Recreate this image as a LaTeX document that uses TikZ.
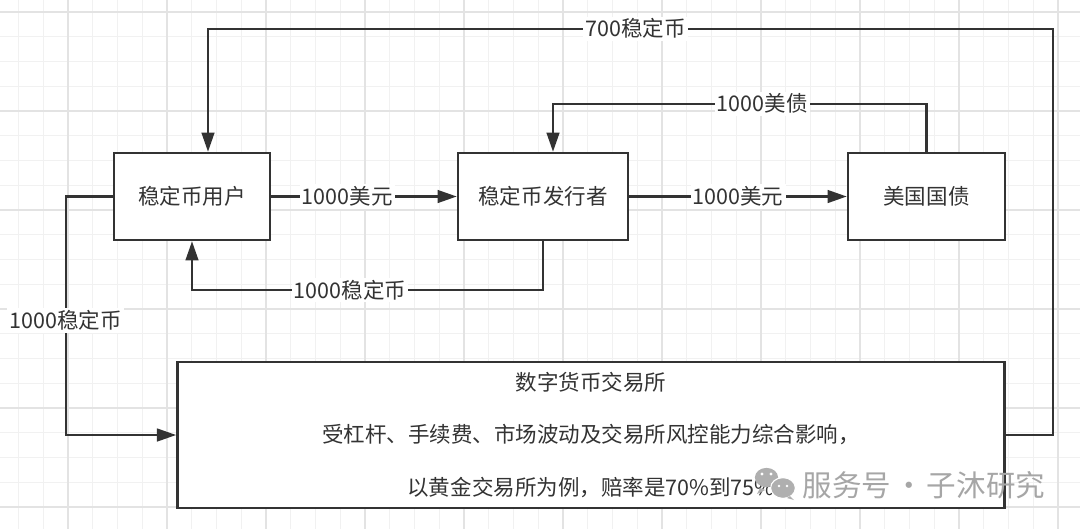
\documentclass[tikz,border=0pt]{standalone}
\usepackage{fontspec}
\newfontfamily\cjk{Noto Sans CJK SC}
\usepackage{tikz}
\usetikzlibrary{positioning,calc,arrows.meta}
\definecolor{ink}{HTML}{333333}
\definecolor{gridminor}{HTML}{F1F1F1}
\definecolor{gridmajor}{HTML}{E3E3E3}
\definecolor{mark}{HTML}{A6A6A6}

\begin{document}
\begin{tikzpicture}[x=0.025cm,y=-0.025cm,
	box/.style={draw=ink, line width=1.8pt, fill=white, text=ink, inner sep=0pt, align=center, font=\cjk\fontsize{15.3}{37}\selectfont},
	flow/.style={draw=ink, line width=1.5pt, -{Triangle[length=0.48cm,width=0.32cm]}},
	lbl/.style={fill=white, text=ink, inner sep=1.5pt, font=\cjk\fontsize{15.3}{18}\selectfont}]
	\useasboundingbox (0,0) rectangle (1080,529);
	\fill[white] (0,0) rectangle (1080,529);
	% background grid
	\foreach \i in {0,...,43}
		\draw[gridminor, line width=0.7pt] ({18.5+\i*24.75},0) -- ({18.5+\i*24.75},529);
	\foreach \i in {0,...,21}
		\draw[gridminor, line width=0.7pt] (0,{12+\i*24.75}) -- (1080,{12+\i*24.75});
	\foreach \i in {0,...,10}
		\draw[gridmajor, line width=1pt] ({68+\i*99},0) -- ({68+\i*99},529);
	\foreach \i in {0,...,5}
		\draw[gridmajor, line width=1pt] (0,{12+\i*99}) -- (1080,{12+\i*99});

	% boxes
	\node[box, minimum width=3.9cm, minimum height=2.175cm] (user) at (192,196.5) {稳定币用户};
	\node[box, minimum width=4.25cm, minimum height=2.175cm] (issuer) at (543,196.5) {稳定币发行者};
	\node[box, minimum width=3.925cm, minimum height=2.175cm] (treasury) at (926.5,196.5) {美国国债};
	\node[box, minimum width=20.675cm, minimum height=3.65cm] (exchange) at (591,435) {数字货币交易所\\受杠杆、手续费、市场波动及交易所风控能力综合影响，\\以黄金交易所为例，赔率是70\%到75\%};

	% flows
	\draw[flow] (user.east) -- (issuer.west) node[lbl, pos=0.41] (usd1) {1000美元};
	\draw[flow] (issuer.east) -- (treasury.west) node[lbl, midway] (usd2) {1000美元};
	\draw[flow] (treasury.north) -- ++(0,-48) -| ($(issuer.north)+(10,0)$) node[lbl, pos=0.22] (bond) {1000美债};
	\draw[flow] (issuer.south) -- ++(0,49) -| (user.south) node[lbl, pos=0.275] (coin1) {1000稳定币};
	\draw[flow] (user.west) -- ++(-47,0) |- (exchange.west) node[lbl, pos=0.26] (coin2) {1000稳定币};
	\draw[flow] (exchange.east) -- ++(47,0) |- ($(user.north)+(16,-123)$) node[lbl, pos=0.747] (coin3) {700稳定币} -- ($(user.north)+(16,0)$);

	% watermark
	\fill[mark!90] (766.5,477.5) ellipse [x radius=0.29cm, y radius=0.24cm];
	\fill[mark!90] (760,488) -- (757,494) -- (765,490) -- cycle;
	\filldraw[mark!90, draw=white, line width=0.8pt] (783,488) ellipse [x radius=0.31cm, y radius=0.26cm];
	\fill[mark!90] (790,496) -- (794,500) -- (787,498) -- cycle;
	\fill[white] (762,474) circle (0.04cm) (771,474) circle (0.04cm) (779,486) circle (0.035cm) (787,486) circle (0.035cm);
	\node[text=mark, inner sep=0pt, font=\cjk\fontsize{21}{25}\selectfont] (wm) at (924,485) {服务号\hspace{0.1em}·\hspace{0.1em}子沐研究};
\end{tikzpicture}
\end{document}
